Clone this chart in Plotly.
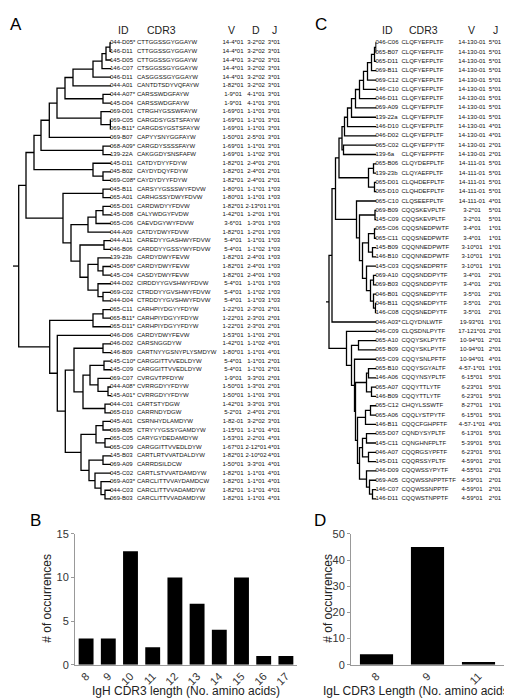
import plotly.graph_objects as go

W, H = 512, 700

# ---------------- Panel A data ----------------
ids_A = ["044-D05*", "146-D11", "145-D05", "146-C07", "046-D11", "044-A01", "044-A07*", "145-D04",
         "069-D01", "069-C05", "069-B11*", "069-B07", "068-A09*", "139-22A", "145-D11", "045-B02",
         "069-C08*", "045-B11", "065-A01", "065-D01", "145-D08", "065-C06", "044-A09", "044-A11",
         "046-B06", "139-23b", "045-D06*", "145-C04", "044-D02", "069-C02", "044-D04", "065-C11",
         "065-B11*", "065-D11*", "046-D06", "046-D02", "146-B09", "145-C10*", "145-C09", "069-C07",
         "044-A08*", "145-A01*", "044-C01", "065-D10", "045-A01", "069-B05", "065-C05", "065-C09",
         "145-B03", "069-A09", "045-C02", "069-A03*", "044-C03", "069-B03"]
cdr3_A = ["CTTGGSSGYGGAYW", "CTTGGSSGYGGAYW", "CTTGGSSGYGGAYW", "CTSGGSSGYGGAYW", "CASGGSSGYGGAYW",
          "CANTDTSDYVQFAYW", "CARSSWDGFAYW", "CARSSWDGFAYW", "CTRGHYGSSWFAYW", "CARGDSYGSTSFAYW",
          "CARGDSYGSTSFAYW", "CAPYYSNYGGFAYW", "CARGDYSSSSFAYW", "CAKGGDYSNSFAFW", "CATDYDYYFDYW",
          "CAYDYDQYFDYW", "CAYDYDYYFDYW", "CARSYYGSSSWYFDVW", "CARHGSSYDWYFDVW", "CARDWDYYFDVW",
          "CALYWDGYFVDW", "CAEVDGYWYFDVW", "CATDYDWYFDVW", "CAREDYYGASHWYFDVW", "CARDDYYGSSYWYFDVW",
          "CARDYDWYFEVW", "CARDYDWYFEVW", "CASDYDWYFEVW", "CIRDDYYGVSHWYFDVW", "CTRDDYYGVSHWYFDVW",
          "CTRDDYYGVSHWYFDVW", "CARHPIYDGYYFDYW", "CARHPIYDGYYFDYW", "CARHPIYDGYYFDYW", "CARDYDWYFEVW",
          "CARSNGGDYW", "CARTNYYGSNYPLYSMDYW", "CARGGITTVVEDLDYW", "CARGGITTVVEDLDYW", "CVRGVTPFDYW",
          "CVRRGDYYFDYW", "CVRRGDYYFDYW", "CARTSTYDGW", "CARRNDYDGW", "CSRNHYDLAMDYW",
          "CTRYYYGSSYGAMDYW", "CARYGYDEDAMDYW", "CARGGITTVVEDLDYW", "CARTLRTVVATDALDYW", "CARRDSILDCW",
          "CARTLSTVVATDAMDYW", "CARCLITTVVAYDAMDCW", "CARCLITTVVADAMDYW", "CARCLITTVVADAMDYW"]
v_A = ["14-4*01"] * 5 + ["1-82*01", "1-9*01", "1-9*01", "1-69*01", "1-69*01", "1-69*01", "1-50*01",
       "1-69*01", "1-69*01", "1-82*01", "1-82*01", "1-82*01", "1-80*01", "1-80*01", "1-82*01",
       "1-42*01", "3-6*01", "1-82*01", "5-4*01", "5-4*01", "1-82*01", "1-82*01", "1-82*01",
       "5-4*01", "5-4*01", "5-4*01", "1-22*01", "1-22*01", "1-22*01", "1-53*01", "1-42*01",
       "1-80*01", "5-4*01", "5-4*01", "1-9*01", "1-50*01", "1-50*01", "1-42*01", "5-2*01",
       "1-82-01", "1-15*01", "1-53*01", "1-67*01", "1-82*01", "1-50*01", "1-82*01", "1-82*01",
       "1-82*01", "1-82*01"]
d_A = ["3-2*02"] * 6 + ["4-1*01", "4-1*01", "1-1*01", "1-1*01", "1-1*01", "2-5*01", "1-1*01", "1-1*02",
       "2-4*01", "2-4*01", "2-4*01", "1-1*01", "1-1*01", "2-13*01", "1-2*01", "1-3*01", "1-2*01",
       "1-1*01", "1-1*02", "2-4*01", "2-4*01", "2-4*01", "1-1*01", "1-1*02", "1-1*03", "2-3*01",
       "2-3*01", "2-3*01", "1-1*01", "1-1*02", "1-1*01", "1-1*01", "1-1*01", "3-3*01", "1-3*01",
       "1-1*01", "3-3*01", "2-4*01", "3-2*02", "1-1*01", "2-2*01", "2-12*01", "2-10*02", "3-3*01",
       "1-1*01", "1-1*01", "1-1*01", "1-1*01"]
j_A = (["3*01"] * 14 + ["2*01"] * 3 + ["1*03"] * 2 + ["1*01"] * 2 + ["1*03"] * 10 + ["2*01"] * 4 +
       ["4*01"] * 2 + ["2*01"] * 4 + ["3*01"] * 2 + ["2*01"] + ["3*01"] + ["4*01"] * 9)

# dendrogram A: (merge distance, child, child); leaves are row indices
tree_A = (92.3,
          (85,
           (77,
            (70,
             (61.7,
              (54,
               (46,
                (38, (18, (9, (5, (1, 0, 1), 2), 3), 4), 5),
                (8, 6, 7)),
               (10, 8, (0.6, 9, 10))),
              11),
             (8, 12, 13)),
            (18, 14, (8, 15, 16))),
           (48,
            (8, 17, 18),
            (40,
             (23, (15, (8, 19, 20), 21), 22),
             (31,
              (7, 23, 24),
              (23, (13, 25, (8, 26, 27)), (13, 28, (8, 29, 30))))))),
          (61.3,
           (18, (8, 31, 32), 33),
           (53.7, 34,
            (45.7,
             (37, (8, 35, 36), (28, (21, (7, 37, 38), (13, 39, (3, 40, 41))), (6, 42, 43))),
             (30, (15, (8, 44, 45), (6, 46, 47)),
              (22, (8, 48, 49), (16, 50, (10, 51, (6, 52, 53)))))))))
root_stub_A = 98

# ---------------- Panel C data ----------------
ids_C = ["046-C06", "065-B07", "065-D11", "069-B11", "069-C12", "146-C10", "046-D11", "069-A09",
         "139-22a", "146-D10", "046-D02", "065-C02", "139-6a", "065-B06", "139-23b", "065-D01",
         "065-D10", "065-C10", "069-B09", "145-C09", "065-C06", "065-C11", "145-B09", "146-B10",
         "145-C03", "069-A10", "069-B03", "046-B01", "046-B11", "146-C08", "046-A03*", "046-C09",
         "065-A10", "065-B09", "065-C09", "065-B10", "146-A06", "065-A07", "146-B09", "065-C12",
         "065-A06", "146-B11", "065-D07", "145-C11", "046-A07", "145-D11", "046-D09", "069-A05",
         "146-C07", "146-D11"]
cdr3_C = ["CLQFYEFPLTF"] * 11 + ["CLQFYEFPYTF", "CLQFYEFPFTF", "CLQYDEFPLTF", "CLQYAEFPLTF",
          "CLQHDEFPLTF", "CLQHDEFPLTF", "CLQSEEFPLTF", "CQQSKEVPLTF", "CQQSKEVPLTF", "CQQSNEDPWTF",
          "CQQSNEDPWTF", "CQQNNEDPWTF", "CQQNNEDPWTF", "CQQSNEDPRTF", "CQQSNDDPYTF", "CQQSNDDPYTF",
          "CQQSNEDPYTF", "CQQSNEDPYTF", "CQQSNEDPYTF", "CLQYDNLWTF", "CLQSDNLPYTF", "CQQYSKLPYTF",
          "CQQYSKLPYTF", "CQQYSNLPFTF", "CQQYSGYALTF", "CQQYNSYPLTF", "CQQYTTLYTF", "CQQYTTLYTF",
          "CHQYLSSWTF", "CQQLYSTPYTF", "CQQCFGHPFTF", "CQNDYSYPLTF", "CQNGHNFPLTF", "CQQRGSYPFTF",
          "CQQRSSYPLTF", "CQQWSSYPYTF", "CQQWSSNPPTFTF", "CQQWSSNPPTF", "CQQWSTNPPTF"]
v_C = ["14-130-01"] * 13 + ["14-111-01"] * 5 + ["3-2*01", "3-2*01", "3-4*01", "3-4*01", "3-10*01",
       "3-10*01", "3-10*01", "3-4*01", "3-4*01", "3-5*01", "3-5*01", "3-5*01", "19-93*01", "17-121*01",
       "10-94*01", "10-94*01", "10-94*01", "4-57-1*01", "6-15*01", "6-23*01", "6-23*01", "8-27*01",
       "6-15*01", "4-57-1*01", "6-13*01", "5-39*01", "6-23*01", "4-59*01", "4-55*01", "4-59*01",
       "4-59*01", "4-59*01"]
j_C = (["5*01"] * 9 + ["4*01"] * 2 + ["2*01"] * 2 + ["5*01"] * 4 + ["4*01"] + ["5*01"] * 2 +
       ["1*01"] * 5 + ["2*01"] * 5 + ["1*01", "2*01", "2*01", "2*01", "4*01", "1*01", "5*01", "5*01",
                                     "5*01", "1*01", "5*01", "4*01", "5*01", "5*01", "5*01", "2*01",
                                     "2*01", "2*01", "2*01", "2*01"])

tree_C = (47.5,
          (44.5,
           (41,
            (37.5,
             (34.5,
              (32, (29, (25, (21, (17, (13, (9, (5, (2, (0.5, 0, 1), 2), 3), 4), 5), 6), 7), 8), 9), 10),
              (33, 11, 12)),
             (8, (3, 13, 14), (2, 15, 16))),
            (20, 17,
             (17, (1.5, 18, 19),
              (14, (8, (2, 20, 21), (4, 22, 23)),
               (10, 24, (6, (3, 25, 26), (3, 27, (1, 28, 29)))))))),
           30),
          (30, 31,
           (25, (18, 32, 33),
            (22, 34,
             (21, (10, (8, 35, 36), (5, 37, 38)),
              (19, (11, (6, 39, 40), 41),
               (17, (14, (10, 42, 43), (8, 44, 45)),
                (10, 46, (7, 47, (4, 48, 49))))))))))
root_stub_C = 50.5

# ---------------- Bar data ----------------
len_B = ["8", "9", "10", "11", "12", "13", "14", "15", "16", "17"]
count_B = [3, 3, 13, 2, 10, 7, 4, 10, 1, 1]
len_D = ["8", "9", "11"]
count_D = [4, 45, 1]


def tree_segments(node, xs, ys):
    if isinstance(node, int):
        return float(node), 0.0
    h, a, b = node
    ya, da = tree_segments(a, xs, ys)
    yb, db = tree_segments(b, xs, ys)
    xs += [da, h, h, db, None]
    ys += [ya, ya, yb, yb, None]
    return (ya + yb) / 2, h


def py(p):
    return 1 - p / H


fig = go.Figure()

FONT = "Liberation Sans, Arial, sans-serif"
ROWSZ = 6.0
ROWCOL = "#111"

# ---- Panel A tree ----
xs, ys = [], []
ry, rh = tree_segments(tree_A, xs, ys)
xs += [rh, root_stub_A, None]
ys += [ry, ry, None]
fig.add_trace(go.Scatter(x=xs, y=ys, mode="lines", line=dict(color="black", width=1.3),
                         xaxis="x", yaxis="y", hoverinfo="skip", showlegend=False))

nA = len(ids_A)
rowsA = list(range(nA))
for col, xpos, pos in [(ids_A, 102, "middle right"), (cdr3_A, 129, "middle right"),
                       (v_A, 225, "middle center"), (d_A, 248, "middle center"),
                       (j_A, 266, "middle center")]:
    fig.add_trace(go.Scatter(x=[xpos] * nA, y=rowsA, mode="text", text=col, textposition=pos,
                             textfont=dict(family=FONT, size=ROWSZ, color=ROWCOL),
                             xaxis="x2", yaxis="y", hoverinfo="skip", showlegend=False))

# ---- Panel C tree ----
xs, ys = [], []
ry, rh = tree_segments(tree_C, xs, ys)
xs += [rh, root_stub_C, None]
ys += [ry, ry, None]
fig.add_trace(go.Scatter(x=xs, y=ys, mode="lines", line=dict(color="black", width=1.3),
                         xaxis="x3", yaxis="y2", hoverinfo="skip", showlegend=False))

nC = len(ids_C)
rowsC = list(range(nC))
for col, xpos, pos in [(ids_C, 367.5, "middle right"), (cdr3_C, 393.5, "middle right"),
                       (v_C, 464, "middle center"), (j_C, 487, "middle center")]:
    fig.add_trace(go.Scatter(x=[xpos] * nC, y=rowsC, mode="text", text=col, textposition=pos,
                             textfont=dict(family=FONT, size=ROWSZ, color=ROWCOL),
                             xaxis="x4", yaxis="y2", hoverinfo="skip", showlegend=False))

# ---- Bars ----
fig.add_trace(go.Bar(x=len_B, y=count_B, marker=dict(color="black", line=dict(width=0)), width=0.67,
                     xaxis="x5", yaxis="y3", showlegend=False))
fig.add_trace(go.Bar(x=len_D, y=count_D, marker=dict(color="black", line=dict(width=0)), width=0.65,
                     xaxis="x6", yaxis="y4", showlegend=False))

A_top, A_sp = 29.3, (493.3 - 29.3) / (nA - 1)
C_top, C_sp = 29.3, (493.3 - 29.3) / (nC - 1)
hidden = dict(visible=False, showgrid=False, zeroline=False)
tickf = dict(size=11, color="#333")

fig.update_layout(
    width=W, height=H, margin=dict(l=0, r=0, t=0, b=0),
    paper_bgcolor="white", plot_bgcolor="rgba(0,0,0,0)",
    font=dict(family=FONT, color="#222"),
    xaxis=dict(domain=[0, 103 / W], range=[103, 0], anchor="y", **hidden),
    xaxis2=dict(domain=[0, 1], range=[0, W], anchor="y", **hidden),
    yaxis=dict(domain=[0, 1], range=[(H - A_top) / A_sp, -A_top / A_sp], anchor="x", **hidden),
    xaxis3=dict(domain=[310 / W, 368.5 / W], range=[58.5, 0], anchor="y2", **hidden),
    xaxis4=dict(domain=[0, 1], range=[0, W], anchor="y2", **hidden),
    yaxis2=dict(domain=[0, 1], range=[(H - C_top) / C_sp, -C_top / C_sp], anchor="x3", **hidden),
    xaxis5=dict(domain=[67 / W, 289 / W], anchor="y3", type="category", showline=True,
                linecolor="#999", linewidth=1, ticks="", tickangle=-45, tickfont=tickf),
    yaxis3=dict(domain=[py(662), py(529)], anchor="x5", range=[0, 15],
                dtick=5, showline=True, linecolor="#999", linewidth=1, ticks="outside", ticklen=3,
                tickcolor="#999", showgrid=False, zeroline=False, tickfont=tickf),
    xaxis6=dict(domain=[343 / W, 496 / W], anchor="y4", type="category", showline=True,
                linecolor="#999", linewidth=1, ticks="", tickangle=-45, tickfont=tickf),
    yaxis4=dict(domain=[py(662), py(529)], anchor="x6", range=[0, 50],
                dtick=10, showline=True, linecolor="#999", linewidth=1, ticks="outside", ticklen=3,
                tickcolor="#999", showgrid=False, zeroline=False, tickfont=tickf),
)

ann = []
for txt, x, y in [("A", 8, 11), ("C", 313, 11), ("B", 27, 515), ("D", 312, 515)]:
    ann.append(dict(text=txt, x=x / W, y=py(y), xref="paper", yref="paper",
                    showarrow=False, font=dict(size=17, color="black"), xanchor="center", yanchor="middle"))
for txt, x in [("ID", 115), ("CDR3", 153), ("V", 223), ("D", 248), ("J", 266),
               ("ID", 379), ("CDR3", 415), ("V", 463), ("J", 487)]:
    ann.append(dict(text=txt, x=x / W, y=py(16), xref="paper", yref="paper",
                    showarrow=False, font=dict(size=10.5, color="#222"), xanchor="center", yanchor="middle"))
# axis titles
for txt, x, y, ang in [("IgH CDR3 length (No. amino acids)", 178, 689, 0),
                       ("IgL CDR3 Length (No. amino acids)", 410, 689, 0),
                       ("# of occurrences", 39, 595, -90),
                       ("# of occurrences", 320, 595, -90)]:
    ann.append(dict(text=txt, x=x / W, y=py(y), xref="paper", yref="paper", textangle=ang,
                    showarrow=False, font=dict(size=12, color="#222"), xanchor="center", yanchor="middle"))
fig.update_layout(annotations=ann)

fig.write_html("out.html")
